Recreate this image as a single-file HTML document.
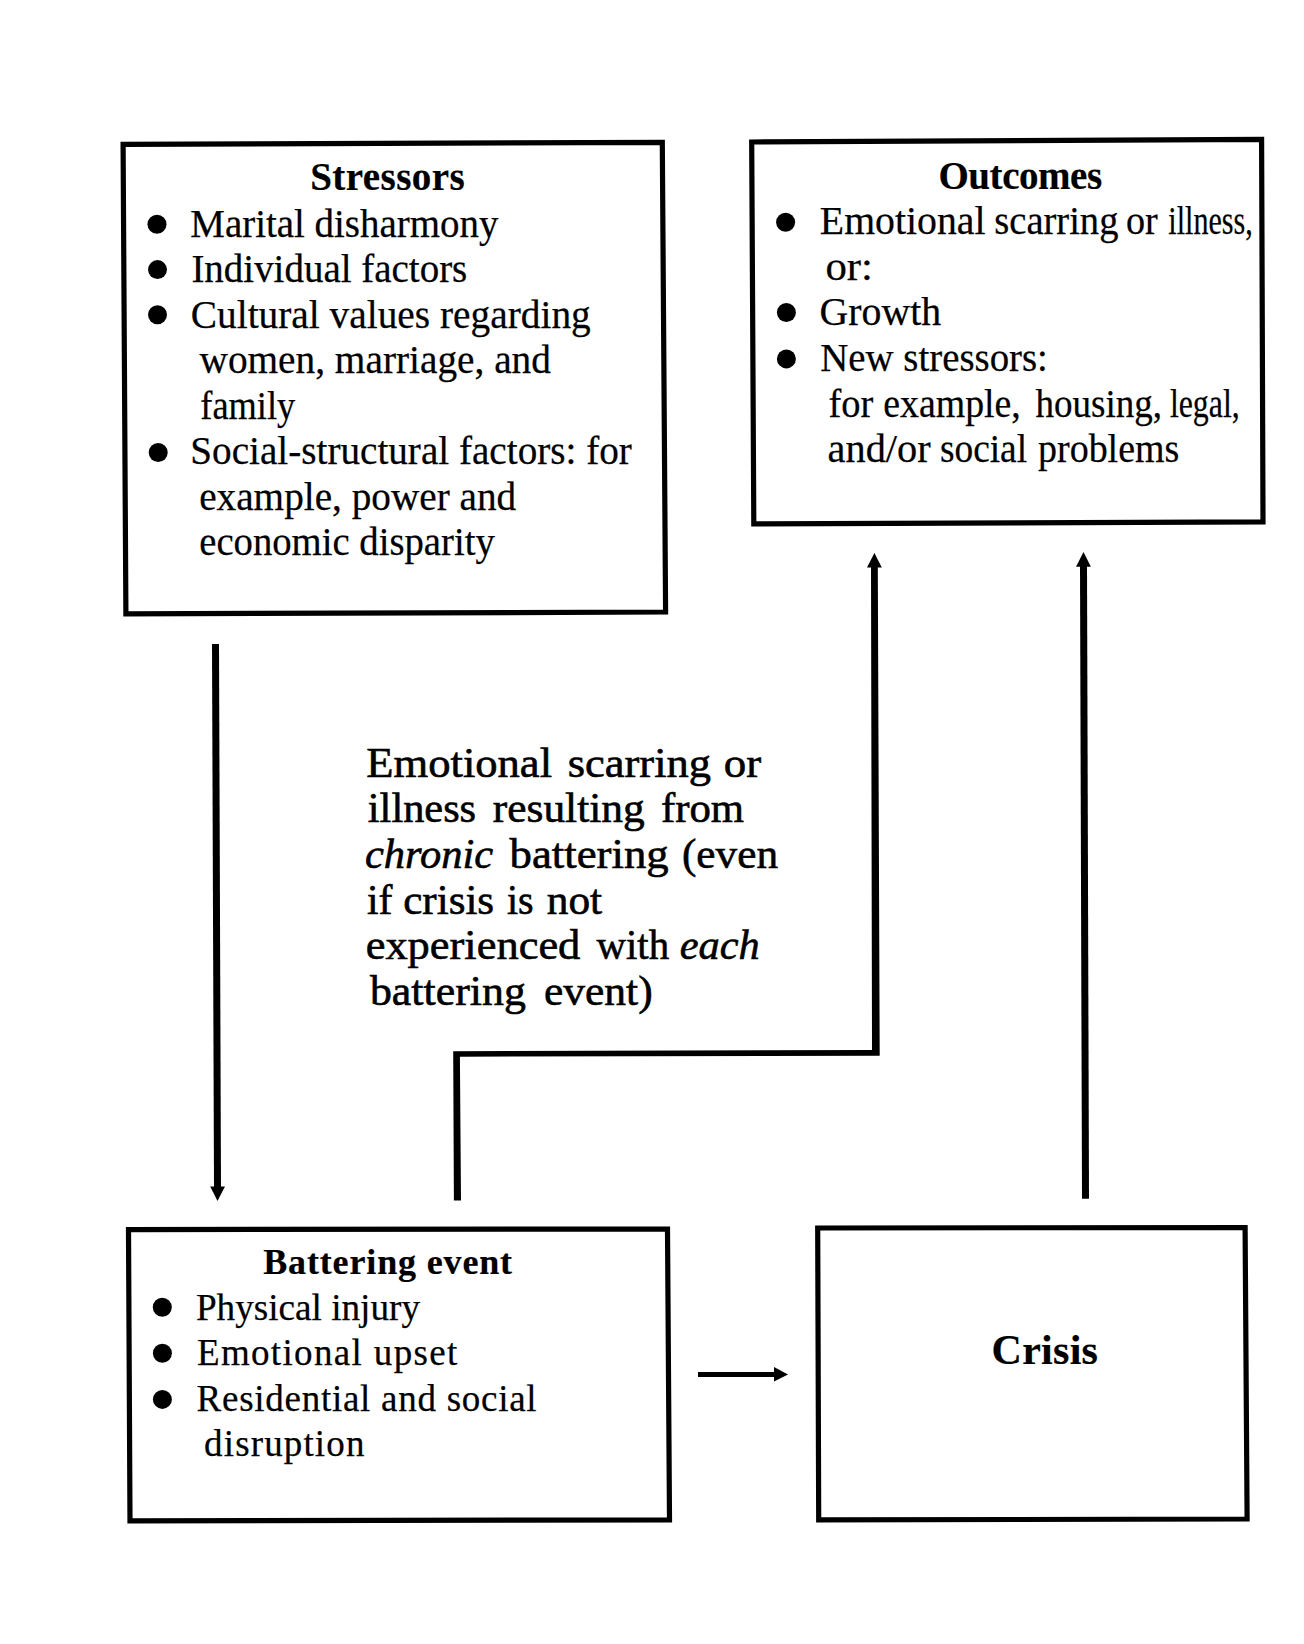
<!DOCTYPE html>
<html><head><meta charset="utf-8"><style>
html,body{margin:0;padding:0;background:#fff;}
svg{display:block;}
text{font-family:"Liberation Serif",serif;fill:#000;stroke:#000;white-space:pre;}
</style></head><body>
<svg width="1304" height="1644" viewBox="0 0 1304 1644">
<rect width="1304" height="1644" fill="#fff"/>
<polygon points='123.1,144.3 662.3,142.4 665.6,612.0 125.9,613.9' fill='none' stroke='#000' stroke-width='5.2' stroke-linejoin='miter'/>
<polygon points='751.7,142.0 1261.6,139.4 1263.0,521.9 753.8,523.9' fill='none' stroke='#000' stroke-width='5.2' stroke-linejoin='miter'/>
<polygon points='128.5,1229.6 667.5,1229.0 669.5,1519.9 130.0,1520.8' fill='none' stroke='#000' stroke-width='5.2' stroke-linejoin='miter'/>
<polygon points='817.7,1228.0 1245.1,1227.5 1247.1,1519.0 818.7,1519.9' fill='none' stroke='#000' stroke-width='5.2' stroke-linejoin='miter'/>
<polyline points='215.5,644 217.5,1188' fill='none' stroke='#000' stroke-width='7'/>
<polygon points='210.2,1186.5 225,1186.5 217.5,1201' fill='#000'/>
<polygon points='453.9,1200.6 453.2,1051.2 872,1050 871,566 877.8,566 879.7,1055.7 459.9,1056.7 461,1200.6' fill='#000'/>
<polygon points='867,567.6 881.8,567.6 874.4,552.9' fill='#000'/>
<polyline points='1085.5,1198.8 1083.5,566' fill='none' stroke='#000' stroke-width='7'/>
<polygon points='1076,566.7 1090.9,566.7 1083.5,552' fill='#000'/>
<polyline points='698,1374.5 776,1374.5' fill='none' stroke='#000' stroke-width='5'/>
<polygon points='774,1367 774,1381.5 788,1374.5' fill='#000'/>
<circle cx='157.0' cy='224.3' r='9.5' fill='#000'/>
<circle cx='157.5' cy='269.6' r='9.5' fill='#000'/>
<circle cx='157.5' cy='314.7' r='9.5' fill='#000'/>
<circle cx='158.2' cy='452.5' r='9.5' fill='#000'/>
<circle cx='785.6' cy='222.2' r='9.5' fill='#000'/>
<circle cx='786.4' cy='312.5' r='9.5' fill='#000'/>
<circle cx='786.4' cy='358.9' r='9.5' fill='#000'/>
<circle cx='162.3' cy='1307.3' r='9.5' fill='#000'/>
<circle cx='162.4' cy='1353.3' r='9.5' fill='#000'/>
<circle cx='162.4' cy='1399.4' r='9.5' fill='#000'/>
<text id='t0' x='310.13' y='190.20' font-size='39' font-weight='700' stroke-width='0.2' textLength='154.54' lengthAdjust='spacing'>Stressors</text>
<text id='t1' x='190.32' y='236.70' font-size='39' font-weight='400' stroke-width='0.25' textLength='308.06' lengthAdjust='spacingAndGlyphs'>Marital disharmony</text>
<text id='t2' x='191.39' y='282.10' font-size='39' font-weight='400' stroke-width='0.25' textLength='275.91' lengthAdjust='spacingAndGlyphs'>Individual factors</text>
<text id='t3' x='190.78' y='327.50' font-size='39' font-weight='400' stroke-width='0.25' textLength='399.99' lengthAdjust='spacingAndGlyphs'>Cultural values regarding</text>
<text id='t4' x='199.53' y='373.00' font-size='39' font-weight='400' stroke-width='0.25' textLength='351.41' lengthAdjust='spacingAndGlyphs'>women, marriage, and</text>
<text id='t5' x='200.35' y='418.50' font-size='39' font-weight='400' stroke-width='0.25' textLength='94.92' lengthAdjust='spacingAndGlyphs'>family</text>
<text id='t6' x='190.33' y='464.10' font-size='39' font-weight='400' stroke-width='0.25' textLength='441.51' lengthAdjust='spacingAndGlyphs'>Social-structural factors: for</text>
<text id='t7' x='199.19' y='509.50' font-size='39' font-weight='400' stroke-width='0.25' textLength='316.95' lengthAdjust='spacingAndGlyphs'>example, power and</text>
<text id='t8' x='199.23' y='555.10' font-size='39' font-weight='400' stroke-width='0.25' textLength='295.54' lengthAdjust='spacingAndGlyphs'>economic disparity</text>
<text id='t9' x='938.48' y='188.80' font-size='39' font-weight='700' stroke-width='0.2' textLength='163.60' lengthAdjust='spacing'>Outcomes</text>
<text id='t10' x='819.88' y='234.40' font-size='39' font-weight='400' stroke-width='0.25' textLength='165.62' lengthAdjust='spacingAndGlyphs'>Emotional</text>
<text id='t11' x='994.28' y='234.40' font-size='39' font-weight='400' stroke-width='0.25' textLength='124.16' lengthAdjust='spacingAndGlyphs'>scarring</text>
<text id='t12' x='1126.07' y='234.40' font-size='39' font-weight='400' stroke-width='0.25' textLength='31.77' lengthAdjust='spacingAndGlyphs'>or</text>
<text id='t13' x='1168.31' y='234.40' font-size='39' font-weight='400' stroke-width='0.25' textLength='84.44' lengthAdjust='spacingAndGlyphs'>illness,</text>
<text id='t14' x='825.45' y='279.50' font-size='39' font-weight='400' stroke-width='0.25' textLength='47.53' lengthAdjust='spacingAndGlyphs'>or:</text>
<text id='t15' x='819.60' y='325.00' font-size='39' font-weight='400' stroke-width='0.25' textLength='121.54' lengthAdjust='spacingAndGlyphs'>Growth</text>
<text id='t16' x='820.34' y='370.70' font-size='39' font-weight='400' stroke-width='0.25' textLength='227.55' lengthAdjust='spacingAndGlyphs'>New stressors:</text>
<text id='t17' x='828.49' y='416.70' font-size='39' font-weight='400' stroke-width='0.25' textLength='44.81' lengthAdjust='spacingAndGlyphs'>for</text>
<text id='t18' x='883.34' y='416.70' font-size='39' font-weight='400' stroke-width='0.25' textLength='137.50' lengthAdjust='spacingAndGlyphs'>example,</text>
<text id='t19' x='1035.61' y='416.70' font-size='39' font-weight='400' stroke-width='0.25' textLength='126.46' lengthAdjust='spacingAndGlyphs'>housing,</text>
<text id='t20' x='1169.92' y='416.70' font-size='39' font-weight='400' stroke-width='0.25' textLength='69.80' lengthAdjust='spacingAndGlyphs'>legal,</text>
<text id='t21' x='827.64' y='462.20' font-size='39' font-weight='400' stroke-width='0.25' textLength='103.00' lengthAdjust='spacingAndGlyphs'>and/or</text>
<text id='t22' x='939.91' y='462.20' font-size='39' font-weight='400' stroke-width='0.25' textLength='87.18' lengthAdjust='spacingAndGlyphs'>social</text>
<text id='t23' x='1038.07' y='462.20' font-size='39' font-weight='400' stroke-width='0.25' textLength='141.18' lengthAdjust='spacingAndGlyphs'>problems</text>
<text id='t24' x='366.35' y='776.80' font-size='42' font-weight='400' stroke-width='0.6' textLength='185.70' lengthAdjust='spacingAndGlyphs'>Emotional</text>
<text id='t25' x='567.79' y='776.80' font-size='42' font-weight='400' stroke-width='0.6' textLength='143.20' lengthAdjust='spacingAndGlyphs'>scarring</text>
<text id='t26' x='723.68' y='776.80' font-size='42' font-weight='400' stroke-width='0.6' textLength='37.44' lengthAdjust='spacingAndGlyphs'>or</text>
<text id='t27' x='367.85' y='822.40' font-size='42' font-weight='400' stroke-width='0.6' textLength='108.27' lengthAdjust='spacingAndGlyphs'>illness</text>
<text id='t28' x='492.79' y='822.40' font-size='42' font-weight='400' stroke-width='0.6' textLength='151.89' lengthAdjust='spacingAndGlyphs'>resulting</text>
<text id='t29' x='661.01' y='822.40' font-size='42' font-weight='400' stroke-width='0.6' textLength='83.10' lengthAdjust='spacingAndGlyphs'>from</text>
<text id='t30' x='364.90' y='868.10' font-size='42' font-weight='400' stroke-width='0.6' textLength='128.37' lengthAdjust='spacingAndGlyphs'><tspan font-style='italic'>chronic</tspan></text>
<text id='t31' x='509.55' y='868.10' font-size='42' font-weight='400' stroke-width='0.6' textLength='159.18' lengthAdjust='spacingAndGlyphs'>battering</text>
<text id='t32' x='681.94' y='868.10' font-size='42' font-weight='400' stroke-width='0.6' textLength='96.12' lengthAdjust='spacingAndGlyphs'>(even</text>
<text id='t33' x='366.95' y='913.70' font-size='42' font-weight='400' stroke-width='0.6' textLength='25.46' lengthAdjust='spacingAndGlyphs'>if</text>
<text id='t34' x='403.24' y='913.70' font-size='42' font-weight='400' stroke-width='0.6' textLength='90.90' lengthAdjust='spacingAndGlyphs'>crisis</text>
<text id='t35' x='507.05' y='913.70' font-size='42' font-weight='400' stroke-width='0.6' textLength='26.58' lengthAdjust='spacingAndGlyphs'>is</text>
<text id='t36' x='546.77' y='913.70' font-size='42' font-weight='400' stroke-width='0.6' textLength='55.33' lengthAdjust='spacingAndGlyphs'>not</text>
<text id='t37' x='365.68' y='959.40' font-size='42' font-weight='400' stroke-width='0.6' textLength='214.68' lengthAdjust='spacingAndGlyphs'>experienced</text>
<text id='t38' x='596.44' y='959.40' font-size='42' font-weight='400' stroke-width='0.6' textLength='72.63' lengthAdjust='spacingAndGlyphs'>with</text>
<text id='t39' x='679.80' y='959.40' font-size='42' font-weight='400' stroke-width='0.6' textLength='79.99' lengthAdjust='spacingAndGlyphs'><tspan font-style='italic'>each</tspan></text>
<text id='t40' x='369.93' y='1005.00' font-size='42' font-weight='400' stroke-width='0.6' textLength='155.91' lengthAdjust='spacingAndGlyphs'>battering</text>
<text id='t41' x='544.02' y='1005.00' font-size='42' font-weight='400' stroke-width='0.6' textLength='108.61' lengthAdjust='spacingAndGlyphs'>event)</text>
<text id='t42' x='263.18' y='1274.00' font-size='36' font-weight='700' stroke-width='0.2' textLength='248.93' lengthAdjust='spacing'>Battering event</text>
<text id='t43' x='195.93' y='1319.80' font-size='37' font-weight='400' stroke-width='0.25' textLength='224.06' lengthAdjust='spacingAndGlyphs'>Physical injury</text>
<text id='t44' x='196.94' y='1365.20' font-size='37' font-weight='400' stroke-width='0.25' textLength='260.36' lengthAdjust='spacing'>Emotional upset</text>
<text id='t45' x='196.62' y='1410.80' font-size='37' font-weight='400' stroke-width='0.25' textLength='340.02' lengthAdjust='spacing'>Residential and social</text>
<text id='t46' x='204.12' y='1455.90' font-size='37' font-weight='400' stroke-width='0.25' textLength='160.28' lengthAdjust='spacing'>disruption</text>
<text id='t47' x='991.51' y='1363.90' font-size='42' font-weight='700' stroke-width='0.2' textLength='106.44' lengthAdjust='spacing'>Crisis</text>
</svg></body></html>
